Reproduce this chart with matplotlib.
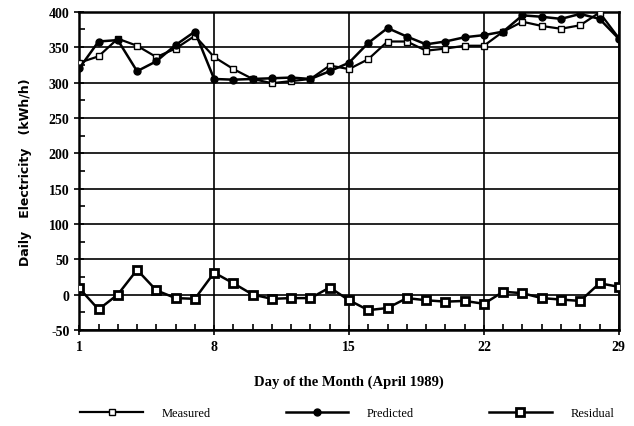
import matplotlib.pyplot as plt
from matplotlib.ticker import MultipleLocator

days = list(range(1, 30))
measured = [328, 337, 362, 352, 336, 348, 366, 336, 319, 305, 299, 302, 305, 324,
            319, 333, 358, 358, 345, 348, 352, 352, 372, 386, 380, 376, 381, 399, 363]
predicted = [320, 358, 360, 316, 330, 353, 372, 305, 304, 305, 306, 307, 305, 316,
             328, 356, 377, 365, 354, 358, 364, 367, 372, 395, 393, 390, 397, 390, 362]
residual = [9, -21, 0, 35, 6, -5, -6, 31, 16, 0, -6, -5, -5, 10,
            -8, -22, -19, -5, -8, -10, -9, -13, 4, 2, -5, -7, -9, 16, 11]

serif = "Liberation Serif"

fig = plt.figure(figsize=(6.34, 4.27), dpi=100)
ax = fig.add_axes([0.125, 0.225, 0.851, 0.745])

ax.plot(days, measured, color="black", lw=1.6, marker="s", ms=5,
        mfc="white", mec="black", mew=1.0, label="Measured", zorder=3)
ax.plot(days, predicted, color="black", lw=1.8, marker="o", ms=5,
        mfc="black", mec="black", label="Predicted", zorder=4)
ax.plot(days, residual, color="black", lw=1.8, marker="s", ms=5.5,
        mfc="white", mec="black", mew=2.0, label="Residual", zorder=3)

ax.set_xlim(1, 29)
ax.set_ylim(-50, 400)
ax.set_xticks([1, 8, 15, 22, 29])
ax.xaxis.set_minor_locator(MultipleLocator(1))
ax.set_yticks(range(-50, 401, 50))
ax.yaxis.set_minor_locator(MultipleLocator(25))
ax.set_yticklabels(["-50", "0", "50", "100", "150", "200", "250", "300", "350", "400"])

ax.grid(True, which="major", color="black", lw=1.2)
for s in ax.spines.values():
    s.set_linewidth(1.8)

ax.tick_params(axis="both", which="major", direction="inout", length=7, width=1.2)
ax.tick_params(axis="both", which="minor", direction="in", length=4, width=1.2)
for lab in ax.get_xticklabels() + ax.get_yticklabels():
    lab.set_fontfamily(serif)
    lab.set_fontweight("bold")
    lab.set_fontsize(10)

ax.set_xlabel("Day of the Month (April 1989)", fontfamily=serif, fontweight="bold",
              fontsize=10.5, labelpad=16)
ax.set_ylabel("Daily   Electricity   (kWh/h)", fontfamily="DejaVu Sans", fontweight="bold",
              fontsize=9, labelpad=12)

fig.legend(loc="lower center", ncol=3, frameon=False, bbox_to_anchor=(0.548, -0.01),
           prop={"family": serif, "size": 9}, handlelength=5.0, columnspacing=6.0,
           handletextpad=1.5)

fig.savefig("out.png", dpi=100)
